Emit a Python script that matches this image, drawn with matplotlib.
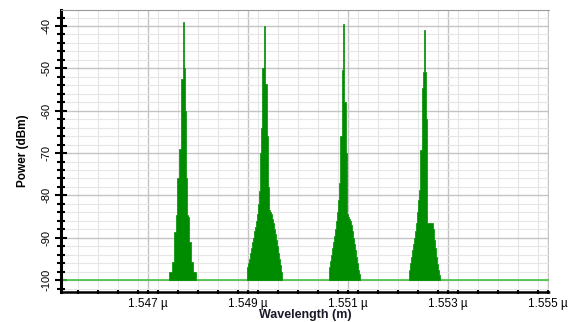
import matplotlib.pyplot as plt
from matplotlib.ticker import MultipleLocator, FuncFormatter

plt.rcParams['font.family'] = ['Liberation Sans', 'DejaVu Sans']

# Spectrum data (wavelength in µm, power in dBm)
noise_floor = -100.0
bin_width = 0.00002  # 0.02 nm resolution

peak_starts = [1.547426, 1.548986, 1.550626, 1.552226]

peak1_levels = [-98, -98, -98, -95.7, -95.7, -88.6, -88.6, -84.7, -76, -76,
                -69, -69, -52.4, -52.4, -39.1, -50, -60, -76, -84.7, -85,
                -91, -91, -95.7, -95.7, -98, -98, -98]
peak2_levels = [-97, -96, -95, -93.5, -92.5, -91, -90, -88.5, -87.5, -86,
                -84.5, -82, -79, -70, -64, -50, -50, -39.9, -53.7, -53.7,
                -66, -78, -83.5, -84, -84.5, -85.5, -86.5, -88, -89, -90.5,
                -92, -93.5, -95, -96.5, -98]
peak3_levels = [-97, -95.5, -94, -92.5, -91, -89.5, -88, -86, -84, -81,
                -77, -66, -66, -50.4, -39.5, -58, -58, -70, -84.5, -85,
                -85.5, -86, -87, -88.5, -90, -91.5, -93, -94.5, -96, -97.5,
                -98.5]
peak4_levels = [-97.5, -96, -94.5, -93, -91.5, -90, -88.5, -86.5, -84, -81,
                -78.8, -69.3, -69.3, -54.7, -50.8, -40.9, -50.8, -62, -86.6, -86.6,
                -86.6, -86.6, -86.6, -86.6, -88, -90.5, -92.5, -94.5, -96.1, -97.5,
                -98.9]
peak_levels = [peak1_levels, peak2_levels, peak3_levels, peak4_levels]

x_min, x_max = 1.545266, 1.555026
y_min, y_max = -102.8, -36.2
x_tick_values = [1.547, 1.549, 1.551, 1.553, 1.555]

fig = plt.figure(figsize=(5.79, 3.22), dpi=100)
ax = fig.add_axes([0.1054, 0.0932, 0.8428, 0.876])

fill_color = '#008c00'
line_color = '#44c244'

# floor line across the whole span
ax.plot([x_min, x_max], [noise_floor, noise_floor], color=line_color, lw=1.2, zorder=2)

for start, levels in zip(peak_starts, peak_levels):
    edges = [start + i * bin_width for i in range(len(levels) + 1)]
    ax.fill_between(edges, levels + [levels[-1]], noise_floor, step='post',
                    facecolor=fill_color, edgecolor=fill_color, lw=0.5, zorder=3)

ax.set_xlim(x_min, x_max)
ax.set_ylim(y_min, y_max)

ax.set_xticks(x_tick_values)
ax.xaxis.set_minor_locator(MultipleLocator(0.0004))
ax.xaxis.set_major_formatter(FuncFormatter(lambda v, p: f'{v:.3f} µ'))
ax.yaxis.set_major_locator(MultipleLocator(10))
ax.yaxis.set_minor_locator(MultipleLocator(2))
ax.yaxis.set_major_formatter(FuncFormatter(lambda v, p: f'{v:.0f}'))

ax.grid(which='major', color='#c4c4c4', lw=1.0)
ax.grid(which='minor', color='#e6e6e6', lw=0.8)
ax.set_axisbelow(True)

ax.tick_params(axis='y', which='major', direction='inout', length=9, width=1.5,
               labelsize=8, labelrotation=90, pad=2)
ax.tick_params(axis='y', which='minor', direction='inout', length=6, width=1.5)
ax.tick_params(axis='x', which='both', direction='inout', length=3, width=1.5,
               labelsize=8.5, pad=3)
for lbl in ax.get_yticklabels():
    lbl.set_va('center')

ax.spines['left'].set_linewidth(2.2)
ax.spines['bottom'].set_linewidth(1.8)
ax.spines['bottom'].set_linestyle((0, (1, 1)))
ax.spines['top'].set_color('#999999')
ax.spines['top'].set_linestyle((0, (1, 1)))
ax.spines['right'].set_visible(False)

ax.set_xlabel('Wavelength (m)', fontsize=9, fontweight='bold', color='#1a1a2a', labelpad=-1)
ax.set_ylabel('Power (dBm)', fontsize=8.5, fontweight='bold', labelpad=9)

fig.savefig('out.png', dpi=100)
